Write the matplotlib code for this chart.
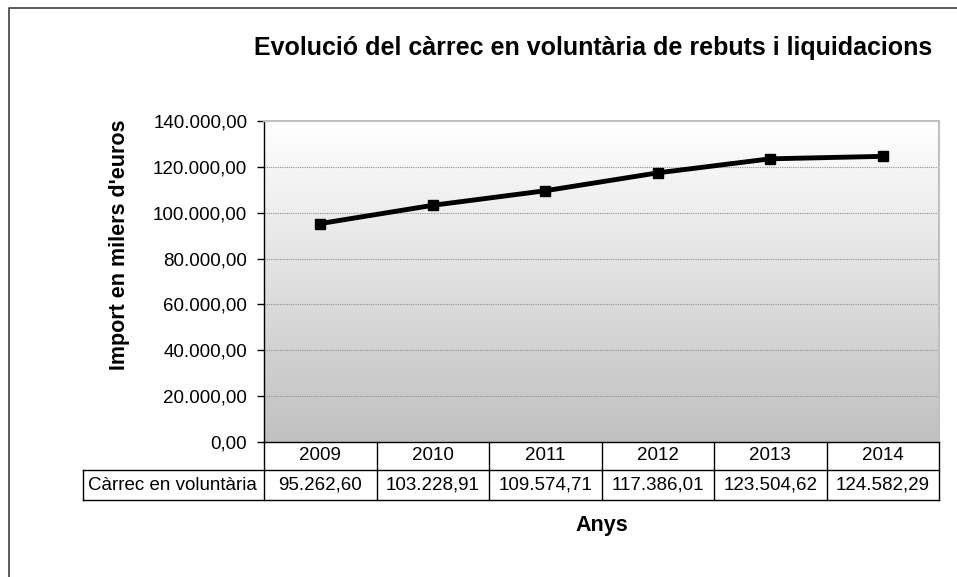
import numpy as np
import matplotlib
matplotlib.use("Agg")
import matplotlib.pyplot as plt
from matplotlib.lines import Line2D
from matplotlib.ticker import FuncFormatter

years = ["2009", "2010", "2011", "2012", "2013", "2014"]
values = [95262.60, 103228.91, 109574.71, 117386.01, 123504.62, 124582.29]
series_name = "Càrrec en voluntària"
title = "Evolució del càrrec en voluntària de rebuts i liquidacions"
ylabel = "Import en milers d'euros"
xlabel = "Anys"
yticks = [0, 20000, 40000, 60000, 80000, 100000, 120000, 140000]

plt.rcParams['font.family'] = ['Liberation Sans', 'DejaVu Sans']

W, H = 957, 577
fig = plt.figure(figsize=(W / 100, H / 100), dpi=100)

def px(x0, y0, x1, y1):
    # pixel box -> figure fraction [left, bottom, width, height]
    return [x0 / W, 1 - y1 / H, (x1 - x0) / W, (y1 - y0) / H]

ax = fig.add_axes(px(264, 121, 939, 442))

def fmt(v):
    s = "{:,.2f}".format(v)
    return s.replace(",", "X").replace(".", ",").replace("X", ".")

# gradient background of the plot area
grad = np.linspace(0, 1, 256).reshape(-1, 1)
ax.imshow(grad, extent=[-0.5, 5.5, 0, 140000], aspect="auto", origin="upper",
          cmap=matplotlib.colors.LinearSegmentedColormap.from_list("g", ["#ffffff", "#c0c0c0"]),
          zorder=0)

x = np.arange(len(years))
ax.plot(x, values, color="black", lw=3.5, marker="s", markersize=7, zorder=3)

ax.set_xlim(-0.5, len(years) - 0.5)
ax.set_ylim(0, 140000)
ax.set_yticks(yticks)
ax.yaxis.set_major_formatter(FuncFormatter(lambda v, p: fmt(v)))
ax.tick_params(axis="y", labelsize=13.5, length=5, width=1, direction="out", pad=7)
ax.set_xticks([])
for v in yticks[1:-1]:
    ax.axhline(v, color="#909090", lw=0.8, ls=(0, (1, 1)), zorder=1)

for side in ["top", "right"]:
    ax.spines[side].set_color("#c0c0c0")
    ax.spines[side].set_linewidth(1.5)
ax.spines["left"].set_linewidth(1)
ax.spines["bottom"].set_linewidth(1)

# data table under the plot
h1 = -28 / 321
h2 = -58 / 321
xl = (83 - 264) / 675
tr = ax.get_xaxis_transform()
kw = dict(color="black", lw=1, clip_on=False)
ax.add_line(Line2D([-0.5, 5.5], [h1, h1], transform=tr, **kw))
ax.add_line(Line2D([xl, 1], [h2, h2], transform=ax.transAxes, **kw))
ax.add_line(Line2D([xl, 0], [h1, h1], transform=ax.transAxes, **kw))
ax.add_line(Line2D([xl, xl], [h1, h2], transform=ax.transAxes, **kw))
for i in range(len(years) + 1):
    ax.add_line(Line2D([i - 0.5, i - 0.5], [0, h2], transform=tr, **kw))
for i, (yr, v) in enumerate(zip(years, values)):
    ax.text(i, h1 / 2, yr, transform=tr, ha="center", va="center", fontsize=13.5)
    ax.text(i, (h1 + h2) / 2, fmt(v), transform=tr, ha="center", va="center", fontsize=13.5)
ax.text(xl + 0.007, (h1 + h2) / 2, series_name, transform=ax.transAxes,
        ha="left", va="center", fontsize=13.5)

fig.text(593 / W, 1 - 48 / H, title, ha="center", va="center", fontsize=18, fontweight="bold")
fig.text(119 / W, 1 - 245 / H, ylabel, ha="center", va="center", rotation=90,
         fontsize=15.5, fontweight="bold")
fig.text(602 / W, 1 - 525 / H, xlabel, ha="center", va="center", fontsize=15.5, fontweight="bold")

# outer chart border (left and top visible)
fig.add_artist(Line2D([9 / W, 9 / W, 1.0], [0.0, 1 - 8 / H, 1 - 8 / H],
                      transform=fig.transFigure, color="#404040", lw=1.2))

fig.savefig("out.png", dpi=100)
